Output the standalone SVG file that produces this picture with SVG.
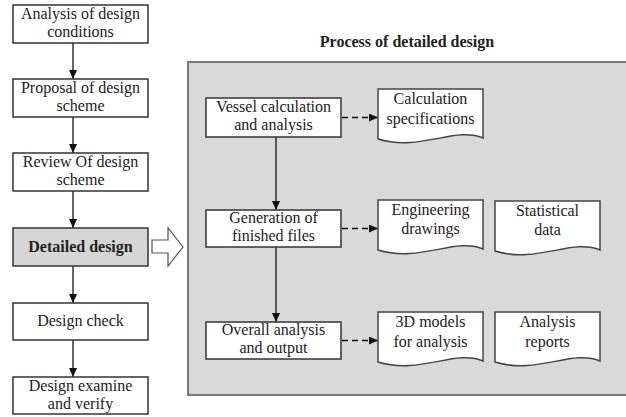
<svg xmlns="http://www.w3.org/2000/svg" width="626" height="417" viewBox="0 0 626 417">
<defs>
<marker id="ah" markerUnits="userSpaceOnUse" markerWidth="10" markerHeight="8" refX="9" refY="4" orient="auto">
<path d="M0,0 L9,4 L0,8 Z" fill="#111"/>
</marker>
<style>
.box{fill:#fff;stroke:#333;stroke-width:1.5}
.doc{fill:#fff;stroke:#444;stroke-width:1.5}
.t{font-family:"Liberation Serif","Times New Roman",serif;font-size:16px;fill:#222;text-anchor:middle}
.b{font-weight:bold}
.ln{stroke:#111;stroke-width:1.3;fill:none}
.dash{stroke:#111;stroke-width:1.3;fill:none;stroke-dasharray:6 4}
</style>
</defs>
<rect width="626" height="417" fill="#fff"/>
<g id="panel">
<rect x="188" y="62" width="440" height="333" fill="#d9d9d9" stroke="#777" stroke-width="2"/>
<text class="t b" x="407" y="47">Process of detailed design</text>
</g>
<g id="big-arrow">
<path d="M152,240 H168 V228 L183,247 L168,266 V253 H152 Z" fill="#fff" stroke="#555" stroke-width="1.2"/>
</g>
<g id="connectors">
<line class="ln" x1="73" y1="43" x2="73" y2="79" marker-end="url(#ah)"/>
<line class="ln" x1="73" y1="117" x2="73" y2="153" marker-end="url(#ah)"/>
<line class="ln" x1="73" y1="191" x2="73" y2="228" marker-end="url(#ah)"/>
<line class="ln" x1="73" y1="266" x2="73" y2="303" marker-end="url(#ah)"/>
<line class="ln" x1="73" y1="340" x2="73" y2="377" marker-end="url(#ah)"/>
<line class="ln" x1="276" y1="137" x2="276" y2="210" marker-end="url(#ah)"/>
<line class="ln" x1="276" y1="247" x2="276" y2="322" marker-end="url(#ah)"/>
<line class="dash" x1="342" y1="117.5" x2="378" y2="117.5" marker-end="url(#ah)"/>
<line class="dash" x1="342" y1="228.5" x2="378" y2="228.5" marker-end="url(#ah)"/>
<line class="dash" x1="342" y1="340.5" x2="378" y2="340.5" marker-end="url(#ah)"/>
</g>
<g id="n1"><rect class="box" x="13" y="5" width="135" height="38"/><text class="t" x="80.5" y="19">Analysis of design</text><text class="t" x="80.5" y="37">conditions</text></g>
<g id="n2"><rect class="box" x="13" y="79" width="135" height="38"/><text class="t" x="80.5" y="93">Proposal of design</text><text class="t" x="80.5" y="111">scheme</text></g>
<g id="n3"><rect class="box" x="13" y="153" width="135" height="38"/><text class="t" x="80.5" y="167">Review Of design</text><text class="t" x="80.5" y="185">scheme</text></g>
<g id="n4"><rect class="box" x="13" y="228" width="135" height="38" style="fill:#d6d6d6"/><text class="t b" x="80.5" y="252">Detailed design</text></g>
<g id="n5"><rect class="box" x="13" y="303" width="135" height="37"/><text class="t" x="80.5" y="326">Design check</text></g>
<g id="n6"><rect class="box" x="13" y="377" width="135" height="37"/><text class="t" x="80.5" y="391">Design examine</text><text class="t" x="80.5" y="409">and verify</text></g>
<g id="p1"><rect class="box" x="206" y="98" width="135" height="39"/><text class="t" x="273.5" y="112">Vessel calculation</text><text class="t" x="273.5" y="130">and analysis</text></g>
<g id="p2"><rect class="box" x="206" y="210" width="135" height="37"/><text class="t" x="273.5" y="223">Generation of</text><text class="t" x="273.5" y="241">finished files</text></g>
<g id="p3"><rect class="box" x="206" y="322" width="135" height="37"/><text class="t" x="273.5" y="335">Overall analysis</text><text class="t" x="273.5" y="353">and output</text></g>
<g id="d1"><path class="doc" d="M378,89 H483 V138 C455,126 420,152 378,139 Z"/><text class="t" x="430.5" y="104">Calculation</text><text class="t" x="430.5" y="124">specifications</text></g>
<g id="d2"><path class="doc" d="M378,200 H483 V249 C455,237 420,263 378,250 Z"/><text class="t" x="430.5" y="215">Engineering</text><text class="t" x="430.5" y="234">drawings</text></g>
<g id="d3"><path class="doc" d="M495,201 H600 V250 C572,238 537,264 495,251 Z"/><text class="t" x="547.5" y="216">Statistical</text><text class="t" x="547.5" y="235">data</text></g>
<g id="d4"><path class="doc" d="M378,312 H483 V361 C455,349 420,375 378,362 Z"/><text class="t" x="430.5" y="327">3D models</text><text class="t" x="430.5" y="347">for analysis</text></g>
<g id="d5"><path class="doc" d="M495,312 H600 V361 C572,349 537,375 495,362 Z"/><text class="t" x="547.5" y="327">Analysis</text><text class="t" x="547.5" y="347">reports</text></g>
</svg>
